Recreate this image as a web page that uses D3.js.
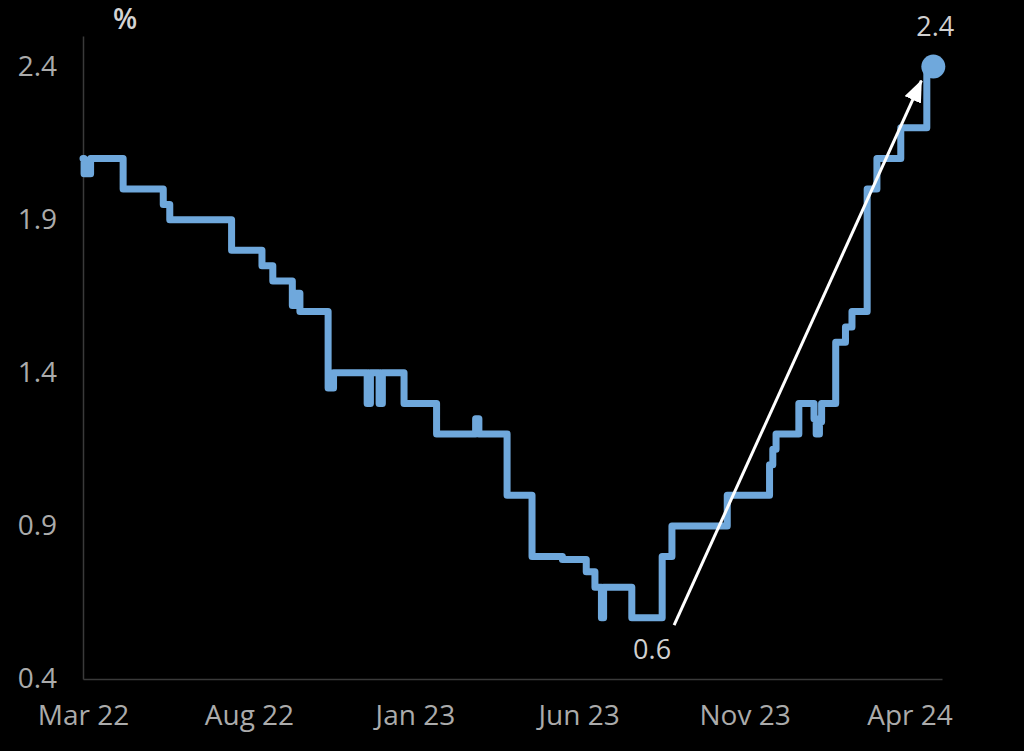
<!DOCTYPE html>
<html>
<head>
<meta charset="utf-8">
<script src="https://cdn.jsdelivr.net/npm/d3@7"></script>
<style>
  body { margin: 0; background: #000; }
  text { font-family: "Open Sans", "Noto Sans", sans-serif; }
</style>
</head>
<body>
<div id="chart"></div>
<script>
// Change points of the step line (value holds until the next date)
var dates = [
  "2022-03-01", "2022-03-02", "2022-03-08", "2022-04-07", "2022-05-14", "2022-05-20",
  "2022-07-16", "2022-08-13", "2022-08-23", "2022-09-10", "2022-09-14", "2022-09-17",
  "2022-10-13", "2022-10-18", "2022-11-18", "2022-11-21", "2022-11-29", "2022-12-02",
  "2022-12-22", "2023-01-21", "2023-02-26", "2023-03-01", "2023-03-27", "2023-04-19",
  "2023-05-17", "2023-06-08", "2023-06-16", "2023-06-22", "2023-06-24", "2023-07-20",
  "2023-08-17", "2023-08-26", "2023-10-16", "2023-11-24", "2023-11-27", "2023-11-30",
  "2023-12-21", "2024-01-04", "2024-01-06", "2024-01-09", "2024-01-11", "2024-01-24",
  "2024-02-02", "2024-02-08", "2024-02-22", "2024-03-02", "2024-03-24", "2024-04-17",
  "2024-04-23"
];
var values = [
  2.1, 2.05, 2.1, 2.0, 1.95, 1.9,
  1.8, 1.75, 1.7, 1.62, 1.66, 1.6,
  1.35, 1.4, 1.3, 1.4, 1.3, 1.4,
  1.3, 1.2, 1.25, 1.2, 1.0, 0.8,
  0.79, 0.75, 0.7, 0.6, 0.7, 0.6,
  0.8, 0.9, 1.0, 1.1, 1.15, 1.2,
  1.3, 1.25, 1.2, 1.24, 1.3, 1.5,
  1.55, 1.6, 2.0, 2.1, 2.2, 2.4,
  2.4
];

// Axis ticks
var yTicks = [0.4, 0.9, 1.4, 1.9, 2.4];
var xTicks = ["2022-03-01", "2022-08-01", "2023-01-01", "2023-06-01", "2023-11-01", "2024-04-01"];
var xDomain = ["2022-03-01", "2024-05-01"];
var yDomain = [0.4, 2.5];

// Annotation: arrow from the low to the latest reading
var arrowDates = ["2023-08-28", "2024-04-12"];
var arrowValues = [0.576, 2.354];
var lowLabel = "0.6";
var lastLabel = "2.4";
var unitLabel = "%";

var parseDate = d3.timeParse("%Y-%m-%d");

var svgWidth = 1024;
var svgHeight = 751;

var margin = { top: 36, right: 82, bottom: 72, left: 83 };

var chartWidth = svgWidth - margin.left - margin.right;
var chartHeight = svgHeight - margin.top - margin.bottom;

var svg = d3.select("#chart")
    .append("svg")
    .attr("width", svgWidth)
    .attr("height", svgHeight)
    .style("background", "#000");

var chartGroup = svg.append("g")
    .attr("transform", `translate(${margin.left}, ${margin.top})`);

var data = dates.map((d, i) => ({ date: parseDate(d), value: values[i] }));

var xTimeScale = d3.scaleTime()
    .domain(xDomain.map(parseDate))
    .range([0, chartWidth]);

var yLinearScale = d3.scaleLinear()
    .domain(yDomain)
    .range([chartHeight, 0]);

var bottomAxis = d3.axisBottom(xTimeScale)
    .tickValues(xTicks.map(parseDate))
    .tickFormat(d3.timeFormat("%b %y"))
    .tickSize(0)
    .tickPadding(26);

var leftAxis = d3.axisLeft(yLinearScale)
    .tickValues(yTicks)
    .tickFormat(d3.format(".1f"))
    .tickSize(0)
    .tickPadding(26);

// axes
var yAxisGroup = chartGroup.append("g").call(leftAxis);
var xAxisGroup = chartGroup.append("g")
    .attr("transform", `translate(0, ${chartHeight})`)
    .call(bottomAxis);

[yAxisGroup, xAxisGroup].forEach(function(g) {
    g.select(".domain").attr("stroke", "#3a3a3a").attr("stroke-width", 1.5);
    g.selectAll("text")
        .attr("fill", "#ababab")
        .attr("font-size", "28px")
        .style("font-family", "'Open Sans', 'Noto Sans', sans-serif");
});

// unit label above the y axis
chartGroup.append("text")
    .attr("x", 42)
    .attr("y", -7)
    .attr("text-anchor", "middle")
    .attr("font-size", "28px")
    .attr("font-weight", "600")
    .attr("fill", "#d4d4d4")
    .text(unitLabel);

// step line
var line = d3.line()
    .x(d => xTimeScale(d.date))
    .y(d => yLinearScale(d.value))
    .curve(d3.curveStepAfter);

chartGroup.append("path")
    .datum(data)
    .attr("fill", "none")
    .attr("stroke", "#6fa8dc")
    .attr("stroke-width", 7)
    .attr("stroke-linejoin", "round")
    .attr("stroke-linecap", "round")
    .attr("d", line);

// end dot
var last = data[data.length - 1];
chartGroup.append("circle")
    .attr("cx", xTimeScale(last.date))
    .attr("cy", yLinearScale(last.value))
    .attr("r", 12)
    .attr("fill", "#6fa8dc");

chartGroup.append("text")
    .attr("x", xTimeScale(last.date) + 2)
    .attr("y", yLinearScale(last.value) - 31)
    .attr("text-anchor", "middle")
    .attr("font-size", "27px")
    .attr("fill", "#d0d0d0")
    .text(lastLabel);

// arrow
svg.append("defs").append("marker")
    .attr("id", "arrowhead")
    .attr("markerUnits", "userSpaceOnUse")
    .attr("viewBox", "0 0 22 18")
    .attr("markerWidth", 22)
    .attr("markerHeight", 18)
    .attr("refX", 21)
    .attr("refY", 9)
    .attr("orient", "auto")
    .append("path")
    .attr("d", "M0,0 L22,9 L0,18 Z")
    .attr("fill", "#fff");

var ax0 = xTimeScale(parseDate(arrowDates[0]));
var ay0 = yLinearScale(arrowValues[0]);
chartGroup.append("line")
    .attr("x1", ax0)
    .attr("y1", ay0)
    .attr("x2", xTimeScale(parseDate(arrowDates[1])))
    .attr("y2", yLinearScale(arrowValues[1]))
    .attr("stroke", "#fff")
    .attr("stroke-width", 3)
    .attr("marker-end", "url(#arrowhead)");

chartGroup.append("text")
    .attr("x", ax0 - 22)
    .attr("y", ay0 + 34)
    .attr("text-anchor", "middle")
    .attr("font-size", "27px")
    .attr("fill", "#d0d0d0")
    .text(lowLabel);
</script>
</body>
</html>
